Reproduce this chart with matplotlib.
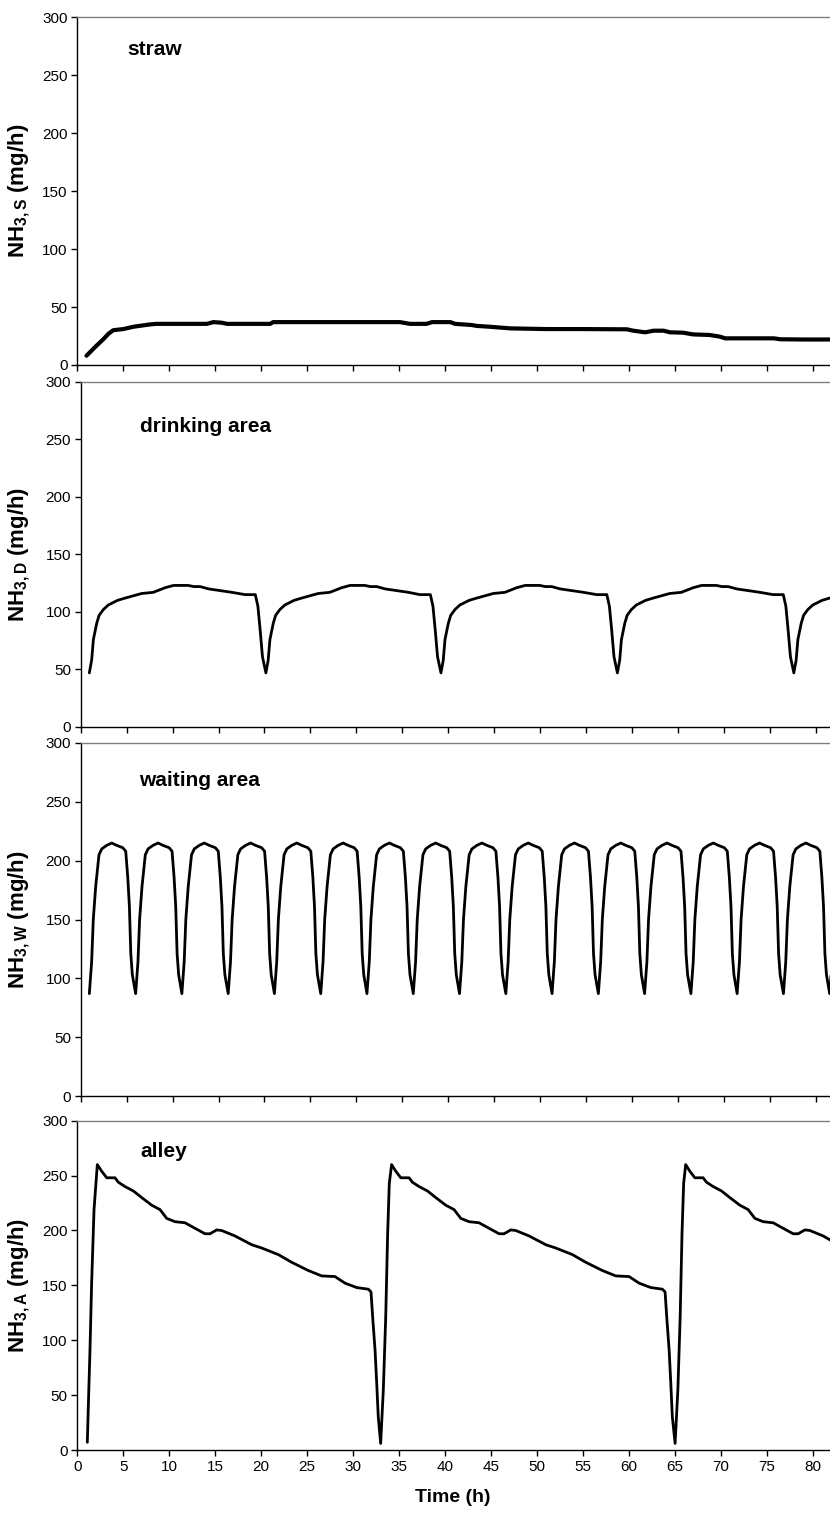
import numpy as np
import matplotlib
matplotlib.use("Agg")
import matplotlib.pyplot as plt

plt.rcParams['font.family'] = ['Liberation Sans', 'DejaVu Sans']
plt.rcParams['mathtext.fontset'] = 'custom'
plt.rcParams['mathtext.rm'] = 'Liberation Sans'
plt.rcParams['mathtext.bf'] = 'Liberation Sans:bold'

## straw
straw_t = [1.0, 1.5, 2.0, 2.8, 3.4, 3.9, 5.0, 6.1, 7.0, 7.9, 8.6, 10.0, 12.0, 14.1, 14.8, 15.7,
           16.3, 18.0, 21.0, 21.3, 25.0, 30.0, 35.1, 36.2, 38.0, 38.6, 40.6, 41.1, 42.9, 43.5,
           44.9, 47.1, 51.1, 55.0, 59.8, 60.5, 61.8, 62.7, 63.8, 64.5, 65.9, 67.0, 68.8, 69.9,
           70.5, 72.0, 75.8, 76.5, 79.0, 82.0]
straw_v = [8, 12, 16, 22, 27, 30, 31, 33, 34, 35, 35.5, 35.5, 35.5, 35.5, 37, 36.5,
           35.5, 35.5, 35.5, 37, 37, 37, 37, 35.5, 35.5, 37, 37, 35.5, 34.5, 33.7,
           33, 31.6, 31, 31, 30.8, 29.6, 28.2, 29.6, 29.6, 28.2, 27.9, 26.4, 25.9, 24.5,
           23, 23, 23, 22.2, 22, 22]

## drinking area
drink_t = [0.94, 1.19, 1.38, 1.74, 2.00, 2.46, 3.00, 4.00, 4.83, 6.64, 7.90, 9.18, 10.10, 11.70, 12.30, 13.00, 13.90, 16.45, 17.90, 19.00, 19.28, 19.53, 19.78,
           20.15, 20.40, 20.59, 20.95, 21.21, 21.67, 22.21, 23.21, 24.04, 25.85, 27.11, 28.39, 29.31, 30.91, 31.51, 32.21, 33.11, 35.66, 36.90, 38.05, 38.33, 38.58, 38.83,
           39.20, 39.45, 39.64, 40.00, 40.26, 40.72, 41.26, 42.26, 43.09, 44.90, 46.16, 47.44, 48.36, 49.96, 50.56, 51.26, 52.16, 54.71, 56.15, 57.25, 57.53, 57.78, 58.03,
           58.40, 58.65, 58.84, 59.20, 59.46, 59.92, 60.46, 61.46, 62.29, 64.10, 65.36, 66.64, 67.56, 69.16, 69.76, 70.46, 71.36, 73.91, 75.35, 76.45, 76.73, 76.98, 77.23,
           77.60, 77.85, 78.04, 78.40, 78.66, 79.12, 79.66, 80.66, 81.49, 82.20]
drink_v = [47, 58, 76, 90, 97, 102, 106, 110, 112, 116, 117, 121, 123, 123, 122, 122, 120, 117, 115, 115, 105, 84, 61,
           47, 58, 76, 90, 97, 102, 106, 110, 112, 116, 117, 121, 123, 123, 122, 122, 120, 117, 115, 115, 105, 84, 61,
           47, 58, 76, 90, 97, 102, 106, 110, 112, 116, 117, 121, 123, 123, 122, 122, 120, 117, 115, 115, 105, 84, 61,
           47, 58, 76, 90, 97, 102, 106, 110, 112, 116, 117, 121, 123, 123, 122, 122, 120, 117, 115, 115, 105, 84, 61,
           47, 58, 76, 90, 97, 102, 106, 110, 112, 113.5]

## waiting area
wait_t = [
    [0.94, 1.19, 1.37, 1.63, 1.99, 2.29, 2.83, 3.38, 3.92, 4.58, 4.90, 5.12, 5.30, 5.45, 5.62],
    [5.98, 6.23, 6.41, 6.67, 7.03, 7.33, 7.87, 8.42, 8.96, 9.62, 9.94, 10.16, 10.34, 10.49, 10.66],
    [11.01, 11.26, 11.44, 11.70, 12.06, 12.36, 12.90, 13.45, 13.99, 14.65, 14.97, 15.19, 15.37, 15.52, 15.69],
    [16.05, 16.30, 16.48, 16.74, 17.10, 17.40, 17.94, 18.49, 19.03, 19.69, 20.01, 20.23, 20.41, 20.56, 20.73],
    [21.08, 21.33, 21.51, 21.77, 22.13, 22.43, 22.97, 23.52, 24.06, 24.72, 25.04, 25.26, 25.44, 25.59, 25.76],
    [26.12, 26.37, 26.55, 26.81, 27.17, 27.47, 28.01, 28.56, 29.10, 29.76, 30.08, 30.30, 30.48, 30.63, 30.80],
    [31.15, 31.40, 31.58, 31.84, 32.20, 32.50, 33.04, 33.59, 34.13, 34.79, 35.11, 35.33, 35.51, 35.66, 35.83],
    [36.19, 36.44, 36.62, 36.88, 37.24, 37.54, 38.08, 38.63, 39.17, 39.83, 40.15, 40.37, 40.55, 40.70, 40.87],
    [41.22, 41.47, 41.65, 41.91, 42.27, 42.57, 43.11, 43.66, 44.20, 44.86, 45.18, 45.40, 45.58, 45.73, 45.90],
    [46.26, 46.51, 46.69, 46.95, 47.31, 47.61, 48.15, 48.70, 49.24, 49.90, 50.22, 50.44, 50.62, 50.77, 50.94],
    [51.29, 51.54, 51.72, 51.98, 52.34, 52.64, 53.18, 53.73, 54.27, 54.93, 55.25, 55.47, 55.65, 55.80, 55.97],
    [56.33, 56.58, 56.76, 57.02, 57.38, 57.68, 58.22, 58.77, 59.31, 59.97, 60.29, 60.51, 60.69, 60.84, 61.01],
    [61.36, 61.61, 61.79, 62.05, 62.41, 62.71, 63.25, 63.80, 64.34, 65.00, 65.32, 65.54, 65.72, 65.87, 66.04],
    [66.40, 66.65, 66.83, 67.09, 67.45, 67.75, 68.29, 68.84, 69.38, 70.04, 70.36, 70.58, 70.76, 70.91, 71.08],
    [71.43, 71.68, 71.86, 72.12, 72.48, 72.78, 73.32, 73.87, 74.41, 75.07, 75.39, 75.61, 75.79, 75.94, 76.11],
    [76.47, 76.72, 76.90, 77.16, 77.52, 77.82, 78.36, 78.91, 79.45, 80.11, 80.43, 80.65, 80.83, 80.98, 81.15],
    [81.50, 81.75, 81.93],
]
wait_v = [
    [87, 114, 150, 178, 205, 210, 213, 215, 213, 211, 208, 186, 161, 121, 103],
    [87, 114, 150, 178, 205, 210, 213, 215, 213, 211, 208, 186, 161, 121, 103],
    [87, 114, 150, 178, 205, 210, 213, 215, 213, 211, 208, 186, 161, 121, 103],
    [87, 114, 150, 178, 205, 210, 213, 215, 213, 211, 208, 186, 161, 121, 103],
    [87, 114, 150, 178, 205, 210, 213, 215, 213, 211, 208, 186, 161, 121, 103],
    [87, 114, 150, 178, 205, 210, 213, 215, 213, 211, 208, 186, 161, 121, 103],
    [87, 114, 150, 178, 205, 210, 213, 215, 213, 211, 208, 186, 161, 121, 103],
    [87, 114, 150, 178, 205, 210, 213, 215, 213, 211, 208, 186, 161, 121, 103],
    [87, 114, 150, 178, 205, 210, 213, 215, 213, 211, 208, 186, 161, 121, 103],
    [87, 114, 150, 178, 205, 210, 213, 215, 213, 211, 208, 186, 161, 121, 103],
    [87, 114, 150, 178, 205, 210, 213, 215, 213, 211, 208, 186, 161, 121, 103],
    [87, 114, 150, 178, 205, 210, 213, 215, 213, 211, 208, 186, 161, 121, 103],
    [87, 114, 150, 178, 205, 210, 213, 215, 213, 211, 208, 186, 161, 121, 103],
    [87, 114, 150, 178, 205, 210, 213, 215, 213, 211, 208, 186, 161, 121, 103],
    [87, 114, 150, 178, 205, 210, 213, 215, 213, 211, 208, 186, 161, 121, 103],
    [87, 114, 150, 178, 205, 210, 213, 215, 213, 211, 208, 186, 161, 121, 103],
    [87, 114, 150],
]

## alley
alley_t = [
    [1.09, 1.20, 1.38, 1.56, 1.82, 2.18, 2.65, 3.20, 4.10, 4.46, 5.19, 6.10, 7.00, 8.10, 9.00, 9.73,
     10.63, 11.72, 12.80, 13.90, 14.44, 15.17, 15.70, 17.16, 18.98, 20.07, 21.88, 23.33, 25.14, 26.59,
     28.04, 29.13, 30.40, 31.67, 31.96, 32.14, 32.40, 32.58, 32.75],
    [33.01, 33.30, 33.56, 33.77, 33.95, 34.20, 34.65, 35.20, 36.10, 36.46, 37.19, 38.10, 39.00, 40.10,
     41.00, 41.73, 42.63, 43.72, 44.80, 45.90, 46.44, 47.17, 47.70, 49.16, 50.98, 52.07, 53.88, 55.33,
     57.14, 58.59, 60.04, 61.13, 62.40, 63.67, 63.96, 64.14, 64.40, 64.58, 64.75],
    [65.05, 65.35, 65.60, 65.80, 65.98, 66.20, 66.65, 67.20, 68.10, 68.46, 69.19, 70.10, 71.00, 72.10,
     73.00, 73.73, 74.63, 75.72, 76.80, 77.90, 78.44, 79.17, 79.70, 81.16, 82.20],
]
alley_v = [
    [7, 40, 91, 152, 219, 260, 254, 248, 248, 244, 240, 236, 230, 223, 219, 211,
     208, 207, 202, 197, 197, 200.5, 200, 195, 187, 184, 178, 171, 163.5, 158.6,
     158, 152, 148, 146.5, 144, 121, 91, 61, 30],
    [6, 55, 121, 197, 243, 260, 254, 248, 248, 244, 240, 236, 230, 223,
     219, 211, 208, 207, 202, 197, 197, 200.5, 200, 195, 187, 184, 178, 171,
     163.5, 158.6, 158, 152, 148, 146.5, 144, 121, 91, 61, 30],
    [6, 55, 121, 197, 243, 260, 254, 248, 248, 244, 240, 236, 230, 223,
     219, 211, 208, 207, 202, 197, 197, 200.5, 200, 195, 190],
]

panel_names = ["straw", "drinking area", "waiting area", "alley"]
ylabels = [r"NH$_{\mathbf{3,S}}$ (mg/h)", r"NH$_{\mathbf{3,D}}$ (mg/h)",
           r"NH$_{\mathbf{3,W}}$ (mg/h)", r"NH$_{\mathbf{3,A}}$ (mg/h)"]

W, H = 830, 1520
fig = plt.figure(figsize=(W / 100, H / 100), dpi=100)

# pixel boxes: left, top, bottom
boxes = [(77.3, 17.3, 365), (80.7, 381.7, 727), (80.7, 743, 1096), (77.3, 1120.7, 1450)]
px_per_h = 9.19

series = [
    (straw_t, straw_v, 3.0),
    (drink_t, drink_v, 2.0),
    (np.concatenate(wait_t), np.concatenate(wait_v), 2.0),
    (np.concatenate(alley_t), np.concatenate(alley_v), 2.0),
]
label_pos = [(5.4, 272), (6.4, 261), (6.3, 268), (6.9, 272)]

for i, (left, top, bot) in enumerate(boxes):
    ax = fig.add_axes([left / W, 1 - bot / H, (W - left) / W, (bot - top) / H])
    t, v, lw = series[i]
    ax.plot(t, v, color='black', lw=lw, solid_joinstyle='round', solid_capstyle='round')
    ax.set_xlim(0, (W - left) / px_per_h)
    ax.set_ylim(0, 300)
    ax.set_xticks(np.arange(0, 85, 5))
    ax.set_yticks(np.arange(0, 301, 50))
    ax.spines['right'].set_visible(False)
    ax.spines['top'].set_color('#808080')
    ax.spines['top'].set_linewidth(1.0)
    ax.spines['left'].set_linewidth(1.0)
    ax.spines['bottom'].set_linewidth(1.0)
    ax.tick_params(direction='out', length=4, width=1, labelsize=11, pad=3)
    if i < 3:
        ax.tick_params(axis='x', labelbottom=False)
    ax.set_ylabel(ylabels[i], fontsize=16, fontweight='bold', va='center')
    ax.yaxis.set_label_coords(-(left - 19) / (W - left), 0.5)
    ax.text(label_pos[i][0], label_pos[i][1], panel_names[i], fontsize=15, fontweight='bold',
            ha='left', va='center')

fig.text(453 / W, 1 - 1497 / H, "Time (h)", fontsize=14, fontweight='bold', ha='center', va='center')

fig.savefig("out.png", dpi=100)
